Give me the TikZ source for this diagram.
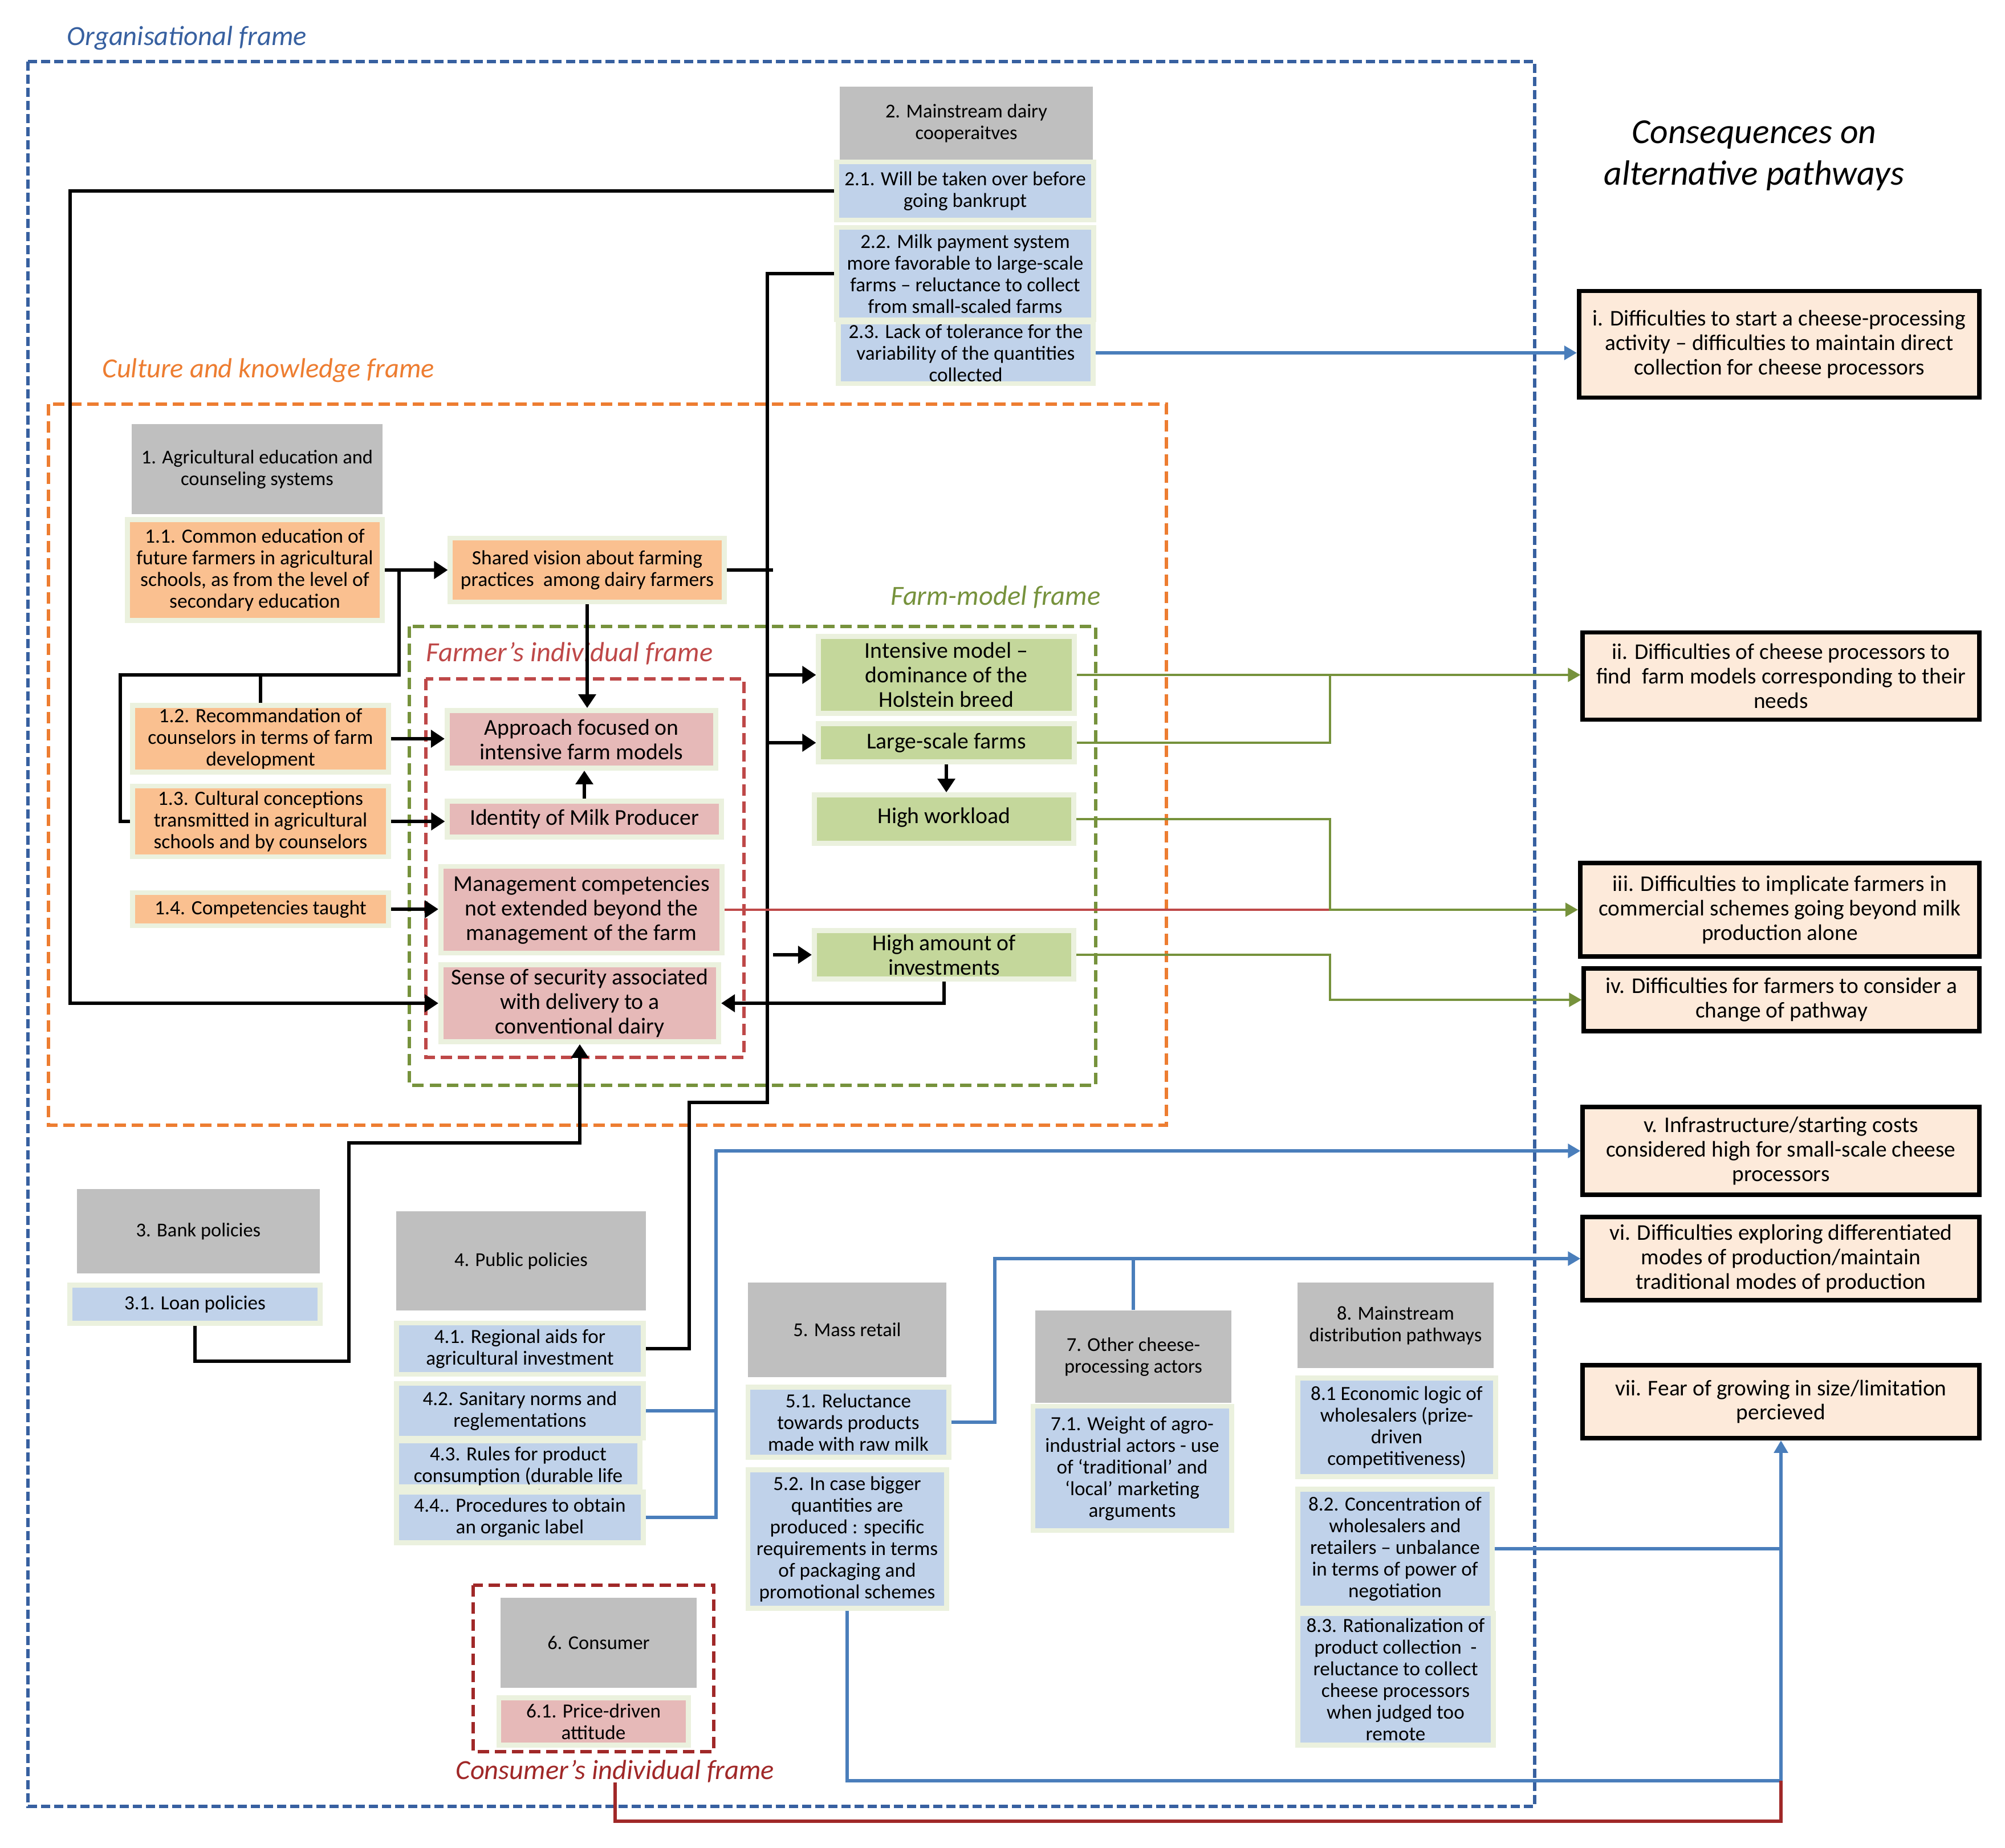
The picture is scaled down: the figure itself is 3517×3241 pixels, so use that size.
\documentclass[tikz,border=0pt]{standalone}
\usepackage{fontspec}
\setmainfont{Carlito}
\usetikzlibrary{arrows.meta}

\definecolor{greyfill}{RGB}{191,191,191}
\definecolor{bluefill}{RGB}{192,210,234}
\definecolor{orangefill}{RGB}{250,192,144}
\definecolor{pinkfill}{RGB}{230,185,184}
\definecolor{greenfill}{RGB}{196,215,155}
\definecolor{consfill}{RGB}{253,234,218}
\definecolor{glow}{RGB}{235,241,222}
\definecolor{orgblue}{RGB}{55,96,160}
\definecolor{culorange}{RGB}{237,125,49}
\definecolor{farmgreen}{RGB}{118,146,60}
\definecolor{farmerred}{RGB}{190,72,72}
\definecolor{consred}{RGB}{160,40,40}
\definecolor{lineblue}{RGB}{74,126,187}

\tikzset{
  box/.style={align=center, inner sep=1pt, font=\fontsize{9.8}{10.8}\selectfont},
  greybox/.style={box, fill=greyfill},
  bluebox/.style={box, fill=bluefill, draw=glow, line width=2.5pt, font=\fontsize{10}{10.8}\selectfont},
  orangebox/.style={box, fill=orangefill, draw=glow, line width=2.5pt, font=\fontsize{10.1}{10.8}\selectfont},
  pinkbox/.style={box, fill=pinkfill, draw=glow, line width=2.5pt, font=\fontsize{11.3}{12.3}\selectfont},
  greenbox/.style={box, fill=greenfill, draw=glow, line width=2.5pt, font=\fontsize{11.3}{12.3}\selectfont},
  consbox/.style={align=center, inner sep=1pt, fill=consfill, draw=black, line width=2.2pt,
    font=\fontsize{11.2}{12.2}\selectfont},
  framelabel/.style={inner sep=0pt, font=\fontsize{13.8}{16}\selectfont\itshape},
  blkline/.style={line width=1.8pt, black},
  blkarrow/.style={blkline, -{Triangle[length=0.24cm,width=0.3cm]}},
  blueline/.style={line width=1.8pt, lineblue},
  bluarrow/.style={blueline, -{Triangle[length=0.22cm,width=0.24cm]}},
  grnline/.style={line width=1.2pt, farmgreen},
  grnarrow/.style={grnline, -{Triangle[length=0.22cm,width=0.24cm]}},
}

\begin{document}
\begin{tikzpicture}[x=0.01cm, y=-0.01cm]
  \useasboundingbox (0,0) rectangle (3517,3241);

  % frame labels
  \node[framelabel, text=orgblue, anchor=west] (lorg) at (117,67) {Organisational frame};
  \node[framelabel, text=culorange, anchor=west] (lcul) at (179,650) {Culture and knowledge frame};
  \node[framelabel, text=farmgreen, anchor=east] (lfarm) at (1931,1047) {Farm-model frame};
  \node[framelabel, text=farmerred, anchor=west] (lfarmer) at (747,1146) {Farmer’s individual frame};
  \node[framelabel, text=consred] (lcons) at (1079,3107) {Consumer’s individual frame};
  \node[align=center, font=\fontsize{17.5}{21}\selectfont\itshape] (lconseq) at (3077,273) {Consequences on\\alternative pathways};

  % dashed frames
  \draw[orgblue, line width=1.7pt, dash pattern=on 0.16cm off 0.07cm] (49,108) rectangle (2692,3169);
  \draw[culorange, line width=1.5pt, dash pattern=on 0.2cm off 0.1cm] (85,709) rectangle (2046,1974);
  \draw[farmgreen, line width=1.5pt, dash pattern=on 0.2cm off 0.1cm] (718,1099) rectangle (1922,1904);
  \draw[farmerred, line width=1.5pt, dash pattern=on 0.2cm off 0.1cm] (747,1191) rectangle (1305,1855);
  \draw[consred, line width=1.5pt, dash pattern=on 0.2cm off 0.1cm] (830,2781) rectangle (1252,3073);

  % 2. dairy cooperatives
  \node[greybox, minimum width=4.44cm, minimum height=1.27cm] (g2) at (1695,216) {2. Mainstream dairy\\cooperaitves};
  \node[bluebox, minimum width=4.5cm, minimum height=1.02cm] (b21) at (1693,335) {2.1. Will be taken over before\\going bankrupt};
  \node[bluebox, minimum width=4.5cm, minimum height=1.62cm] (b22) at (1693,480) {2.2. Milk payment system\\more favorable to large-scale\\farms – reluctance to collect\\from small-scaled farms};
  \node[bluebox, minimum width=4.47cm, minimum height=1.08cm] (b23) at (1694,619) {2.3. Lack of tolerance for the\\variability of the quantities\\collected};

  % 1. education and counseling
  \node[greybox, minimum width=4.4cm, minimum height=1.57cm] (g1) at (451,823) {1. Agricultural education and\\counseling systems};
  \node[orangebox, minimum width=4.47cm, minimum height=1.77cm] (o11) at (447,1000) {1.1. Common education of\\future farmers in agricultural\\schools, as from the level of\\secondary education};
  \node[orangebox, minimum width=4.8cm, minimum height=1.12cm] (osv) at (1030,1000) {Shared vision about farming\\practices\ \ among dairy farmers};
  \node[orangebox, minimum width=4.49cm, minimum height=1.17cm] (o12) at (457,1296) {1.2. Recommandation of\\counselors in terms of farm\\development};
  \node[orangebox, minimum width=4.49cm, minimum height=1.24cm] (o13) at (457,1441) {1.3. Cultural conceptions\\transmitted in agricultural\\schools and by counselors};
  \node[orangebox, minimum width=4.49cm, minimum height=0.58cm] (o14) at (457,1595) {1.4. Competencies taught};

  % farmer's individual frame
  \node[pinkbox, minimum width=4.71cm, minimum height=1.01cm] (papp) at (1020,1297) {Approach focused on\\intensive farm models};
  \node[pinkbox, minimum width=4.8cm, minimum height=0.63cm] (pid) at (1025,1437) {Identity of Milk Producer};
  \node[pinkbox, minimum width=4.93cm, minimum height=1.52cm] (pman) at (1020,1596) {Management competencies\\not extended beyond the\\management of the farm};
  \node[pinkbox, minimum width=4.87cm, minimum height=1.35cm] (psec) at (1017,1760) {Sense of security associated\\with delivery to a\\conventional dairy};

  % farm-model frame
  \node[greenbox, minimum width=4.48cm, minimum height=1.35cm] (gint) at (1660,1184) {Intensive model –\\dominance of the\\Holstein breed};
  \node[greenbox, minimum width=4.48cm, minimum height=0.67cm] (glarge) at (1660,1303) {Large-scale farms};
  \node[greenbox, minimum width=4.55cm, minimum height=0.85cm] (gwork) at (1656,1437) {\raisebox{0.13cm}{High workload}};
  \node[greenbox, minimum width=4.55cm, minimum height=0.85cm] (ginv) at (1656,1675) {High amount of\\investments};

  % 3. and 4. policies
  \node[greybox, minimum width=4.26cm, minimum height=1.48cm] (g3) at (348,2160) {3. Bank policies};
  \node[bluebox, minimum width=4.38cm, minimum height=0.67cm] (b31) at (342,2288) {3.1. Loan policies};
  \node[greybox, minimum width=4.38cm, minimum height=1.73cm] (g4) at (914,2212) {4. Public policies};
  \node[bluebox, minimum width=4.33cm, minimum height=0.9cm] (b41) at (912,2366) {4.1. Regional aids for\\agricultural investment};
  \node[bluebox, minimum width=4.33cm, minimum height=0.96cm] (b42) at (912,2475) {4.2. Sanitary norms and\\reglementations};
  \node[bluebox, minimum width=4.27cm, minimum height=0.81cm] (b43) at (909,2568)
    {\raisebox{0.18cm}[0.25cm][0pt]{\begin{tabular}[t]{@{}c@{}}4.3. Rules for product\\consumption (durable life\\dates)\end{tabular}}};
  \node[bluebox, minimum width=4.33cm, minimum height=0.89cm] (b44) at (912,2662) {4.4.. Procedures to obtain\\an organic label};

  % 5. mass retail
  \node[greybox, minimum width=3.48cm, minimum height=1.66cm] (g5) at (1486,2333) {5. Mass retail};
  \node[bluebox, minimum width=3.52cm, minimum height=1.23cm] (b51) at (1488,2495) {5.1. Reluctance\\towards products\\made with raw milk};
  \node[bluebox, minimum width=3.48cm, minimum height=2.43cm] (b52) at (1486,2700) {5.2. In case bigger\\quantities are\\produced : specific\\requirements in terms\\of packaging and\\promotional schemes};

  % 7. other cheese-processing actors
  \node[greybox, minimum width=3.43cm, minimum height=1.62cm] (g7) at (1988,2380) {7. Other cheese-\\processing actors};
  \node[bluebox, minimum width=3.48cm, minimum height=2.18cm] (b71) at (1986,2576) {7.1. Weight of agro-\\industrial actors - use\\of ‘traditional’ and\\‘local’ marketing\\arguments};

  % 8. distribution pathways
  \node[greybox, minimum width=3.43cm, minimum height=1.5cm] (g8) at (2448,2325) {8. Mainstream\\distribution pathways};
  \node[bluebox, minimum width=3.47cm, minimum height=1.73cm] (b81) at (2450,2504) {8.1 Economic logic of\\wholesalers (prize-\\driven\\competitiveness)};
  \node[bluebox, minimum width=3.41cm, minimum height=2.09cm] (b82) at (2447,2717) {8.2. Concentration of\\wholesalers and\\retailers – unbalance\\in terms of power of\\negotiation};
  \node[bluebox, minimum width=3.43cm, minimum height=2.31cm] (b83) at (2448,2946) {8.3. Rationalization of\\product collection\ \ -\\reluctance to collect\\cheese processors\\when judged too\\remote};

  % 6. consumer
  \node[greybox, minimum width=3.43cm, minimum height=1.57cm] (g6) at (1050,2882) {6. Consumer};
  \node[pinkbox, font=\fontsize{10}{10.8}\selectfont, minimum width=3.32cm, minimum height=0.83cm] (p61) at (1041,3020) {6.1. Price-driven\\attitude};

  % consequences
  \node[consbox, minimum width=7.02cm, minimum height=1.87cm] (ci) at (3121,604) {i. Difficulties to start a cheese-processing\\activity – difficulties to maintain direct\\collection for cheese processors};
  \node[consbox, minimum width=6.95cm, minimum height=1.53cm] (cii) at (3124,1186) {ii. Difficulties of cheese processors to\\find\ \ farm models corresponding to their\\needs};
  \node[consbox, minimum width=7.0cm, minimum height=1.64cm] (ciii) at (3122,1596) {iii. Difficulties to implicate farmers in\\commercial schemes going beyond milk\\production alone};
  \node[consbox, minimum width=6.93cm, minimum height=1.1cm] (civ) at (3125,1754) {iv. Difficulties for farmers to consider a\\change of pathway};
  \node[consbox, minimum width=6.95cm, minimum height=1.54cm] (cv) at (3124,2019) {v. Infrastructure/starting costs\\considered high for small-scale cheese\\processors};
  \node[consbox, minimum width=6.95cm, minimum height=1.46cm] (cvi) at (3124,2208) {vi. Difficulties exploring differentiated\\modes of production/maintain\\traditional modes of production};
  \node[consbox, minimum width=6.95cm, minimum height=1.28cm] (cvii) at (3124,2459) {vii. Fear of growing in size/limitation\\percieved};

  % black links
  \coordinate (lcorner) at (123,335);
  \draw[blkarrow] (b21.west) -- (lcorner) |- (psec.west);
  \coordinate (bus1) at (1346,1934);
  \coordinate (bus2) at (1209,1934);
  \draw[blkline] (b22.west) -| (bus1) -- (bus2) |- (b41.east);
  \draw[blkline] (osv.east) -- ([xshift=0.1cm]osv.east -| bus1);
  \draw[blkarrow] (gint.west -| bus1) -- (gint.west);
  \draw[blkarrow] (glarge.west -| bus1) -- (glarge.west);
  \draw[blkarrow] ([xshift=0.1cm]ginv.west -| bus1) -- (ginv.west);
  \draw[blkarrow] (o11.east) -- (osv.west);
  \coordinate (j1) at (700,1000);
  \coordinate (l2) at (211,1184);
  \draw[blkline] (j1) |- (l2) |- (o13.west);
  \draw[blkline] (o12.north) -- (o12.north |- l2);
  \draw[blkarrow] (o12.east) -- (o12.east -| papp.west);
  \draw[blkarrow] (o13.east) -- (o13.east -| pid.west);
  \draw[blkarrow] (o14.east) -- (o14.east -| pman.west);
  \draw[blkarrow] (osv.south) -- (osv.south |- papp.north);
  \draw[blkarrow] (pid.north) -- (pid.north |- papp.south);
  \draw[blkarrow] (glarge.south) -- (glarge.south |- gwork.north);
  \draw[blkarrow] (ginv.south) |- (psec.east);
  \coordinate (n1) at (612,2388);
  \coordinate (n2) at (612,2005);
  \draw[blkarrow] (b31.south) |- (n1) -- (n2) -| (psec.south);

  % green links
  \coordinate (gx) at (2333,0);
  \draw[grnarrow] (gint.east) -- (gint.east -| cii.west);
  \draw[grnline] (glarge.east) -| (gx |- gint.east);
  \draw[farmerred, line width=1pt] (pman.east) -- (pman.east -| gx);
  \draw[grnarrow] (gwork.east) -| (gx |- ciii.west) -- (ciii.west);
  \draw[grnarrow] (ginv.east) -| (gx |- civ.west) -- (civ.west);

  % blue links
  \draw[bluarrow] (b23.east) -- (b23.east -| ci.west);
  \coordinate (bx1) at (1256,0);
  \draw[blueline] (b42.east) -- (b42.east -| bx1);
  \draw[bluarrow] (b44.east) -| (bx1 |- cv.west) -- (cv.west);
  \coordinate (bx2) at (1745,0);
  \draw[bluarrow] (b51.east) -| (bx2 |- cvi.west) -- (cvi.west);
  \draw[blueline] (g7.north) -- (g7.north |- cvi.west);
  \coordinate (by) at (0,3124);
  \draw[bluarrow] (b52.south) |- (cvii.south |- by) -- (cvii.south);
  \draw[blueline] (b82.east) -- (b82.east -| cvii.south);

  % consumer link
  \coordinate (ry) at (0,3195);
  \draw[consred, line width=1.8pt] (lcons.south) |- (cvii.south |- ry) -- (cvii.south |- by);
\end{tikzpicture}
\end{document}
